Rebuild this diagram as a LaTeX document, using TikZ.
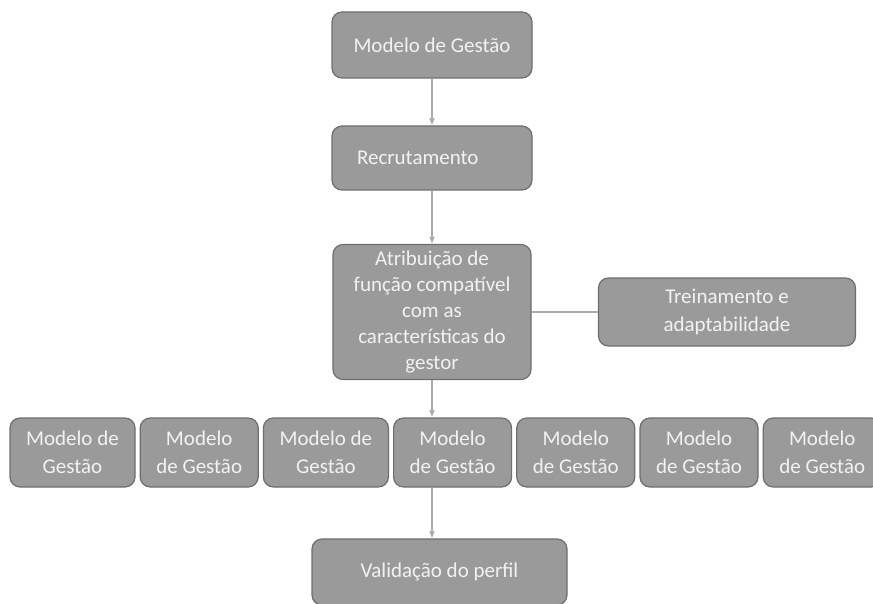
\documentclass[tikz,border=0pt]{standalone}
\usepackage{fontspec}
\setmainfont{Carlito}
\usetikzlibrary{arrows.meta, positioning}
\definecolor{boxfill}{HTML}{9A9A9A}
\definecolor{boxline}{HTML}{6E6E6E}
\definecolor{boxtext}{HTML}{F2F2F2}
\definecolor{linkgray}{HTML}{ABABAB}
\tikzstyle{block}=[draw=boxline, line width=1.2pt, fill=boxfill, rounded corners=10pt,
  text=boxtext, align=center, inner ysep=0pt, font=\fontsize{21}{28}\selectfont]
\tikzstyle{model}=[block, minimum width=118pt, minimum height=69pt, inner xsep=2pt]
\tikzstyle{link}=[draw=linkgray, line width=1.2pt]

\begin{document}
\begin{tikzpicture}[>={Latex[length=7pt,width=6pt]}, x=1pt, y=1pt]
    \clip (0,0) rectangle (873,-604);
    \fill[white] (0,0) rectangle (873,-604);
    \node[block, minimum width=200pt, minimum height=66pt] at (432,-45) (gestao) {Modelo de Gestão};
    \node[block, minimum width=200pt, minimum height=64pt, text width=150pt, inner xsep=25pt,
      align=left, below of=gestao, node distance=113pt] (recrut) {Recrutamento};
    \node[block, minimum width=198pt, minimum height=135pt, below of=recrut, node distance=154pt,
      font=\fontsize{21}{26}\selectfont]
      (atrib) {Atribuição de\\função compatível\\com as\\características do\\gestor};
    \node[block, minimum width=257pt, minimum height=68pt, right of=atrib, node distance=295pt]
      (trein) {Treinamento e\\adaptabilidade};
    % linha de modelos
    \node[model, minimum width=125pt] at (72.5,-452.5) (m1) {Modelo de\\Gestão};
    \node[model, right=4pt of m1] (m2) {Modelo\\de Gestão};
    \node[model, minimum width=125pt, right=4pt of m2] (m3) {Modelo de\\Gestão};
    \node[model, right=4pt of m3] (m4) {Modelo\\de Gestão};
    \node[model, right=4pt of m4] (m5) {Modelo\\de Gestão};
    \node[model, right=4pt of m5] (m6) {Modelo\\de Gestão};
    \node[model, right=4pt of m6] (m7) {Modelo\\de Gestão};
    \node[block, minimum width=255pt, minimum height=66pt] at (439.5,-572) (valid) {Validação do perfil};
    \draw[link, ->] (gestao) -- (recrut);
    \draw[link, ->] (recrut) -- (atrib);
    \draw[link] (atrib) -- (trein);
    \draw[link, ->] (atrib.south) -- (atrib.south |- m4.north);
    \draw[link, ->] (atrib.south |- m4.south) -- (atrib.south |- valid.north);
\end{tikzpicture}
\end{document}
